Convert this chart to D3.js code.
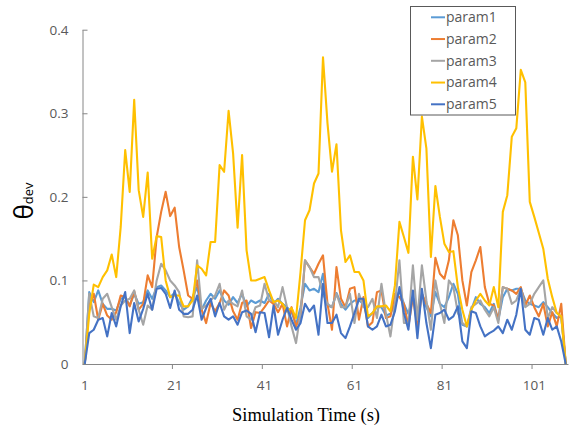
<!DOCTYPE html>
<html><head><meta charset="utf-8">
<script src="https://cdn.jsdelivr.net/npm/d3@7"></script>
<style>body{margin:0;background:#fff}svg{display:block}</style>
</head><body>
<svg id="chart" width="573" height="428"></svg>
<script>
const seriesNames = ["param1","param2","param3","param4","param5"];
const seriesColors = ["#5B9BD5","#ED7D31","#A5A5A5","#FFC000","#4472C4"];
const xTickLabels = [1,21,41,61,81,101];
const yTicks = [0,0.1,0.2,0.3,0.4];

const param1 = [0,0.086,0.074,0.088,0.072,0.066,0.066,0.064,0.078,0.080,0.070,0.084,0.072,0.074,0.088,0.078,0.092,0.094,0.088,0.080,
0.085,0.073,0.065,0.069,0.080,0.092,0.065,0.076,0.084,0.078,0.088,0.076,0.071,0.080,0.073,0.084,0.069,0.076,0.073,0.076,
0.073,0.084,0.072,0.078,0.072,0.068,0.062,0.047,0.068,0.096,0.088,0.090,0.086,0.108,0.070,0.068,0.085,0.072,0.065,0.072,
0.076,0.076,0.072,0.055,0.061,0.068,0.068,0.058,0.060,0.072,0.088,0.072,0.060,0.080,0.060,0.084,0.068,0.057,0.086,0.072,
0.068,0.080,0.096,0.084,0.047,0.045,0.065,0.080,0.072,0.068,0.061,0.072,0.053,0.080,0.090,0.088,0.090,0.090,0.076,0.072,
0.070,0.068,0.074,0.068,0.061,0.055,0.057,0];
const param2 = [0,0.070,0.084,0.053,0.072,0.058,0.053,0.062,0.082,0.080,0.069,0.087,0.065,0.072,0.106,0.092,0.152,0.182,0.206,0.177,
0.187,0.140,0.112,0.082,0.078,0.100,0.065,0.049,0.073,0.063,0.073,0.088,0.082,0.063,0.053,0.073,0.076,0.043,0.062,0.061,
0.068,0.076,0.072,0.062,0.072,0.045,0.068,0.045,0.057,0.124,0.116,0.108,0.120,0.130,0.072,0.041,0.116,0.078,0.068,0.090,
0.092,0.053,0.080,0.045,0.050,0.086,0.088,0.055,0.057,0.084,0.080,0.072,0.045,0.080,0.045,0.084,0.072,0.061,0.127,0.108,
0.102,0.124,0.172,0.154,0.100,0.070,0.110,0.124,0.140,0.092,0.072,0.070,0.053,0.092,0.090,0.088,0.084,0.092,0.070,0.082,
0.068,0.057,0.072,0.045,0.062,0.045,0.072,0];
const param3 = [0,0.084,0.057,0.055,0.078,0.084,0.068,0.053,0.070,0.076,0.078,0.088,0.065,0.047,0.070,0.065,0.100,0.120,0.112,0.100,
0.094,0.086,0.057,0.056,0.057,0.124,0.066,0.070,0.076,0.082,0.096,0.065,0.076,0.072,0.069,0.088,0.057,0.053,0.068,0.070,
0.096,0.076,0.076,0.068,0.092,0.068,0.045,0.025,0.061,0.124,0.116,0.104,0.104,0.084,0.072,0.068,0.084,0.068,0.068,0.084,
0.049,0.084,0.068,0.068,0.078,0.055,0.096,0.060,0.033,0.072,0.124,0.049,0.049,0.118,0.053,0.118,0.076,0.041,0.100,0.072,
0.049,0.100,0.092,0.061,0.049,0.045,0.068,0.072,0.076,0.065,0.057,0.068,0.049,0.092,0.090,0.072,0.076,0.090,0.068,0.072,
0.084,0.092,0.100,0.055,0.068,0.061,0.057,0];
const param4 = [0,0.060,0.095,0.092,0.104,0.112,0.131,0.104,0.164,0.256,0.206,0.316,0.208,0.176,0.229,0.126,0.153,0.152,0.100,0.080,
0.082,0.082,0.069,0.069,0.076,0.118,0.114,0.106,0.146,0.146,0.238,0.230,0.303,0.252,0.163,0.250,0.136,0.100,0.100,0.102,
0.104,0.088,0.074,0.076,0.072,0.063,0.067,0.055,0.110,0.172,0.184,0.216,0.228,0.367,0.288,0.230,0.263,0.160,0.122,0.130,
0.110,0.110,0.100,0.057,0.061,0.069,0.069,0.070,0.063,0.094,0.170,0.152,0.133,0.248,0.197,0.296,0.258,0.128,0.213,0.176,
0.144,0.134,0.135,0.092,0.065,0.045,0.065,0.076,0.084,0.076,0.070,0.092,0.068,0.182,0.202,0.272,0.282,0.352,0.337,0.194,
0.176,0.157,0.138,0.102,0.080,0.061,0.057,0];
const param5 = [0,0.037,0.041,0.053,0.055,0.033,0.061,0.045,0.069,0.086,0.037,0.073,0.051,0.066,0.084,0.065,0.090,0.091,0.084,0.067,
0.088,0.065,0.060,0.060,0.065,0.082,0.053,0.067,0.078,0.057,0.073,0.057,0.053,0.057,0.047,0.062,0.064,0.060,0.038,0.062,
0.061,0.032,0.070,0.035,0.053,0.067,0.053,0.041,0.049,0.072,0.063,0.070,0.035,0.096,0.049,0.049,0.059,0.037,0.031,0.045,
0.061,0.078,0.078,0.045,0.041,0.045,0.059,0.045,0.047,0.063,0.092,0.061,0.041,0.088,0.031,0.090,0.049,0.019,0.059,0.061,
0.065,0.053,0.057,0.069,0.027,0.019,0.063,0.061,0.045,0.033,0.037,0.040,0.045,0.037,0.053,0.041,0.059,0.090,0.041,0.035,
0.055,0.053,0.035,0.055,0.041,0.045,0.027,0];

const allSeries = [param1,param2,param3,param4,param5];
const categories = d3.range(1, param1.length + 1);

const svg = d3.select("#chart");
const x = d3.scaleBand().domain(categories).range([82.5, 568]).paddingInner(0).paddingOuter(0);
const y = d3.scaleLinear().domain([0, 0.4]).range([364, 29.7]);
const cx = c => x(c) + x.bandwidth() / 2;
const axisColor = "#868686";
const textColor = "#595959";
const font = "'Open Sans', sans-serif";

// Y axis
const yAxis = d3.axisLeft(y).tickValues(yTicks).tickSize(0).tickPadding(14)
  .tickFormat(d => d === 0 ? "0" : d3.format(".1f")(d));
const gy = svg.append("g").attr("transform", "translate(82.5,0)").call(yAxis);
gy.select(".domain").attr("stroke", axisColor);
gy.selectAll("text").attr("fill", textColor).attr("font-family", font).attr("font-size", "13.5px");
gy.selectAll(".tick").append("line").attr("x1", 0).attr("x2", 5).attr("stroke", axisColor);

// X axis
const xAxis = d3.axisBottom(x).tickValues(xTickLabels).tickSize(0).tickPadding(16);
const gx = svg.append("g").attr("transform", "translate(0,364)").call(xAxis);
gx.select(".domain").attr("stroke", axisColor);
gx.selectAll("text").attr("fill", textColor).attr("font-family", font).attr("font-size", "13.5px");
svg.append("g").selectAll("line").data(xTickLabels.slice(1)).join("line")
  .attr("x1", d => x(d)).attr("x2", d => x(d)).attr("y1", 364).attr("y2", 369)
  .attr("stroke", axisColor);

// Lines
const line = d3.line().x((d, i) => cx(categories[i])).y(d => y(d));
svg.append("g").selectAll("path").data(allSeries).join("path")
  .attr("d", d => line(d)).attr("fill", "none")
  .attr("stroke", (d, i) => seriesColors[i]).attr("stroke-width", 2.1)
  .attr("stroke-linejoin", "round");

// Axis titles
svg.append("text").attr("x", 306).attr("y", 421).attr("text-anchor", "middle")
  .attr("font-family", "'Liberation Serif', 'Times New Roman', serif").attr("font-size", "18.5px")
  .attr("fill", "#000").text("Simulation Time (s)");
const yt = svg.append("text").attr("transform", "translate(33,201) rotate(-90)")
  .attr("text-anchor", "middle").attr("font-family", font).attr("fill", "#000");
yt.append("tspan").attr("font-size", "26px").text("θ");
yt.append("tspan").attr("font-size", "13px").text("dev");

// Legend
const lg = svg.append("g");
lg.append("rect").attr("x", 410.5).attr("y", 6.5).attr("width", 105).attr("height", 108.5)
  .attr("fill", "#fff").attr("stroke", "#595959").attr("stroke-width", 1);
const items = lg.selectAll("g.item").data(seriesNames).join("g").attr("class", "item")
  .attr("transform", (d, i) => `translate(0,${17.3 + i * 21.75})`);
items.append("line").attr("x1", 431).attr("x2", 445).attr("y1", 0).attr("y2", 0)
  .attr("stroke", (d, i) => seriesColors[i]).attr("stroke-width", 2);
items.append("text").attr("x", 446).attr("y", 0).attr("dy", "0.35em")
  .attr("font-family", font).attr("font-size", "14px").attr("fill", textColor).text(d => d);
</script>
</body></html>
